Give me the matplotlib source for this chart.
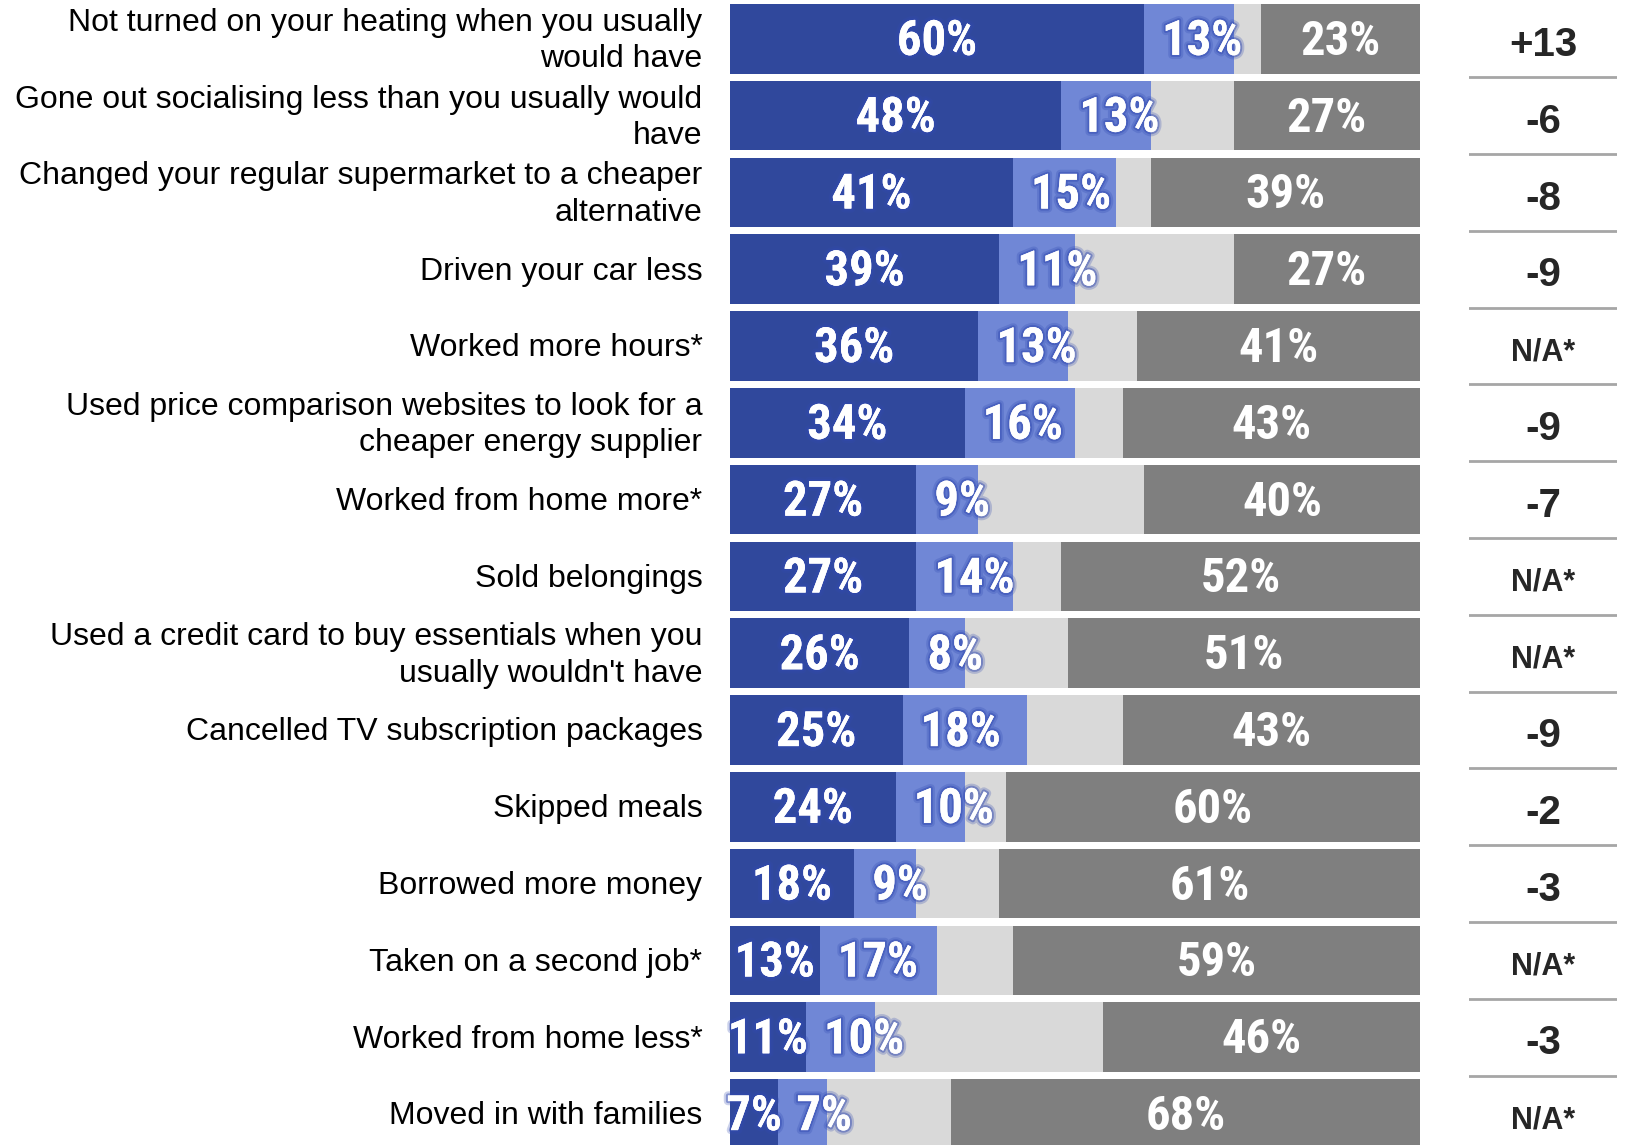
import matplotlib
matplotlib.use("Agg")
import matplotlib.pyplot as plt
import matplotlib.patheffects as pe

# data
labels = [
    "Not turned on your heating when you usually\nwould have",
    "Gone out socialising less than you usually would\nhave",
    "Changed your regular supermarket to a cheaper\nalternative",
    "Driven your car less",
    "Worked more hours*",
    "Used price comparison websites to look for a\ncheaper energy supplier",
    "Worked from home more*",
    "Sold belongings",
    "Used a credit card to buy essentials when you\nusually wouldn't have",
    "Cancelled TV subscription packages",
    "Skipped meals",
    "Borrowed more money",
    "Taken on a second job*",
    "Worked from home less*",
    "Moved in with families",
]
dark_blue = [60, 48, 41, 39, 36, 34, 27, 27, 26, 25, 24, 18, 13, 11, 7]
light_blue = [13, 13, 15, 11, 13, 16, 9, 14, 8, 18, 10, 9, 17, 10, 7]
light_grey = [4, 12, 5, 23, 10, 7, 24, 7, 15, 14, 6, 12, 11, 33, 18]
dark_grey = [23, 27, 39, 27, 41, 43, 40, 52, 51, 43, 60, 61, 59, 46, 68]
net_change = ["+13", "-6", "-8", "-9", "N/A*", "-9", "-7", "N/A*", "N/A*",
              "-9", "-2", "-3", "N/A*", "-3", "N/A*"]

c_dblue = "#30489c"
c_lblue = "#7087d6"
c_lgrey = "#d9d9d9"
c_dgrey = "#7f7f7f"

W, H = 1628, 1145
fig = plt.figure(figsize=(W / 100, H / 100), dpi=100)

pitch = 76.8  # px per row
top_c = 38.8  # px from top to first row centre
y_top = -top_c / pitch
y_bot = y_top + H / pitch

ax = fig.add_axes([730 / W, 0, 690 / W, 1])
ax.set_xlim(0, 100)
ax.set_ylim(y_bot, y_top)
ax.axis("off")

rows = range(len(labels))
bh = 0.906
left = [0] * len(labels)
for vals, col in [(dark_blue, c_dblue), (light_blue, c_lblue),
                  (light_grey, c_lgrey), (dark_grey, c_dgrey)]:
    ax.barh(rows, vals, left=left, height=bh, color=col, linewidth=0)
    left = [a + b for a, b in zip(left, vals)]

bar_font = dict(family=["Roboto Condensed", "Liberation Sans"],
                weight="bold", size=35, color="white")
glow = [pe.withStroke(linewidth=6, foreground="#3048b0", alpha=0.25),
        pe.withStroke(linewidth=3, foreground="#3048b0", alpha=0.45),
        pe.Normal()]

for i in rows:
    d, l, g, k = dark_blue[i], light_blue[i], light_grey[i], dark_grey[i]
    ax.text(d / 2, i + 0.04, f"{d}%", ha="center", va="center",
            path_effects=glow, **bar_font)
    ax.annotate(f"{l}%", (d, i + 0.04), xytext=(13, 0), textcoords="offset points",
                ha="left", va="center", path_effects=glow, **bar_font)
    ax.text(100 - k / 2, i + 0.04, f"{k}%", ha="center", va="center", **bar_font)
    ax.text(-0.04, i + 0.03, labels[i], transform=ax.get_yaxis_transform(),
            ha="right", va="center", ma="right", fontsize=23,
            family="Liberation Sans", color="black", linespacing=1.28)

# right-hand column
ax2 = fig.add_axes([1469 / W, 0, 148 / W, 1])
ax2.set_xlim(0, 1)
ax2.set_ylim(y_bot, y_top)
ax2.axis("off")
for i in rows:
    txt = net_change[i]
    fs = 22 if txt.startswith("N") else 29
    ax2.text(0.5, i + 0.08, txt, ha="center", va="center", fontsize=fs,
             weight="bold", family="Liberation Sans", color="#262626")
for i in range(len(labels) - 1):
    ax2.plot([0, 1], [i + 0.5, i + 0.5], color="#a6a6a6", lw=2)

fig.savefig("out.png", dpi=100)
